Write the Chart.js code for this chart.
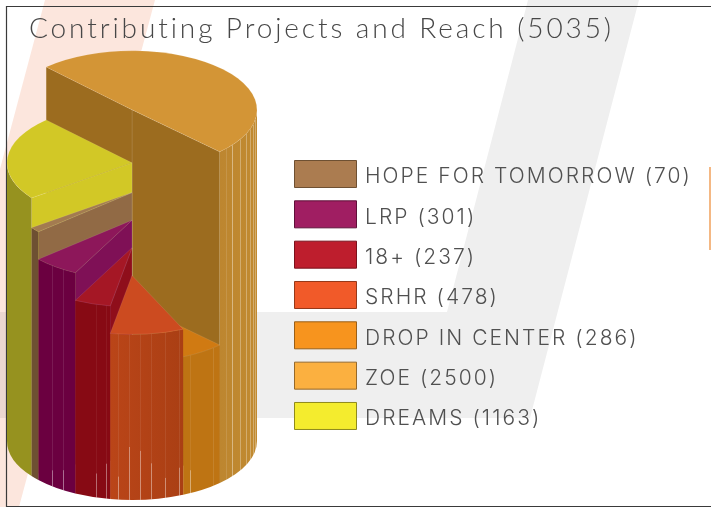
<!DOCTYPE html>
<html><head><meta charset="utf-8">
<script src="https://cdn.jsdelivr.net/npm/chart.js@4"></script>
<style>
html,body{margin:0;padding:0;background:#fff;overflow:hidden}
#wrap{position:relative;width:711px;height:507px}
svg,canvas{position:absolute;left:0;top:0}
</style></head><body>
<div id="wrap">
<svg width="711" height="507">
<polygon points="45,0 155,0 19,507 -90,507" fill="#FCE6DD"/>
<polygon points="528,0 639,0 530,418 0,418 0,312 447,312" fill="#EFEFEF" style="mix-blend-mode:multiply"/>
<path d="M711 6.5H6.5V506.5H711" fill="none" stroke="#3a3a3a" stroke-width="1.2"/>
<rect x="709" y="167" width="2" height="83" fill="#F4B884"/>
</svg>
<canvas id="c" width="711" height="507"></canvas>
</div>
<script>
const titleText = 'Contributing Projects and Reach (5035)';
const categories = ['DREAMS','ZOE','DROP IN CENTER','SRHR','18+','LRP','HOPE FOR TOMORROW'];
const reach = [1163,2500,286,478,237,301,70];
const stepLevels = [5.08,7,0,1,2,3,4];
const paintOrder = [1,0,6,5,4,2,3];
const legendColors = ['#F4EC2E','#FBB040','#F7941E','#F15A29','#BE1E2D','#A01E62','#AB7C50'];
const legendEdges = ['#8F8A1C','#96692A','#9A5F18','#96391A','#7A121C','#5F1039','#6E5032'];
const topColors = ['#D2C826','#D39536','#D07A12','#CC4B20','#A51725','#8D175A','#A37B50'];
const wallColors = ['#D2C826','#9C6C1F','#BE7413','#AE3F14','#8F0E1B','#7F1056','#916A45'];
const rimColors = ['#96921F','#C18A30','#BE7413','#AA3F14','#870A14','#6B0040','#6E5032'];
const rimColorsEnd = ['#96921F','#BD8630','#BE7413','#BA4518','#870A14','#6B0040','#6E5032'];
const facets = [[10,0,.3],[14.5,0,.3],[19.3,0,.3],[24.2,0,.3],[30.2,0,.3],[36.9,0,.4],[41,0,.12],
 [49.6,0,.1],[62.4,23,.08],[68,28,.08],[74.7,20,.08],[81.3,36,.08],[86.3,49,.08],[91.4,53,.08],[96.4,23,.08],
 [102,35,.06],[106.7,24,.06],[123.5,20,.1],[129.8,16,.1]];

const BASE_H = 138, STEP = 27.6, SQUASH = 0.472;
const TITLE_SPACING = '2.9px', LEGEND_SPACING = '2.05px';

const cylinder = {
  id:'cylinder',
  afterLayout(chart){
    const a = chart.chartArea;
    a.left=7; a.right=257; a.top=191; a.bottom=441; a.width=250; a.height=250;
    const t = chart.titleBlock;
    t.left=29; t.right=711; t.top=12; t.bottom=46;
    const l = chart.legend, p = l.options.labels.padding;
    l.left=294.5-p; l.right=711; l.top=160.5-p; l.bottom=507;
    if(!t._sp){
      t._sp=true;
      const c=chart.ctx;
      const dT=t.draw;
      t.draw=function(x){c.letterSpacing=TITLE_SPACING;dT.call(this,x);c.letterSpacing='0px';};
      const dL=l.draw;
      l.draw=function(x){
        const ft=c.fillText;
        c.letterSpacing=LEGEND_SPACING;
        c.fillText=(s,px,py,m)=>ft.call(c,s,px-2,py+3,m);
        dL.call(this,x);
        delete c.fillText;
        c.letterSpacing='0px';
      };
    }
  },
  beforeDatasetsDraw(chart){
    const ctx = chart.ctx, arcs = chart.getDatasetMeta(0).data;
    const ground = chart.chartArea.bottom;
    const h = stepLevels.map(v=>BASE_H+v*STEP);
    const n = arcs.length;
    const poly=(col,fn)=>{ctx.beginPath();fn();ctx.closePath();ctx.fillStyle=col;ctx.fill();
      ctx.strokeStyle='rgba(255,255,255,.16)';ctx.lineWidth=.6;ctx.stroke();};
    for(const i of paintOrder){
      const arc=arcs[i], cx=arc.x, rx=arc.outerRadius, ry=rx*SQUASH;
      const s=arc.startAngle, e=arc.endAngle, top=ground-h[i];
      const px=a=>cx+rx*Math.cos(a), py=(a,y)=>y+ry*Math.sin(a);
      const wall=a=>poly(wallColors[i],()=>{
        ctx.moveTo(cx,top);ctx.lineTo(px(a),py(a,top));ctx.lineTo(px(a),py(a,ground));ctx.lineTo(cx,ground);});
      if(h[(i+1)%n]<h[i] && Math.sin(e+Math.PI/2)>0) wall(e);
      if(h[(i+n-1)%n]<h[i] && Math.sin(s-Math.PI/2)>0) wall(s);
      for(let k=-1;k<=2;k++){
        const a1=Math.max(s,k*2*Math.PI), a2=Math.min(e,k*2*Math.PI+Math.PI);
        if(a2<=a1) continue;
        const g=ctx.createLinearGradient(px(a1),0,px(a2),0);
        g.addColorStop(0,rimColors[i]);g.addColorStop(1,rimColorsEnd[i]);
        ctx.beginPath();
        ctx.ellipse(cx,top,rx,ry,0,a1,a2);
        ctx.ellipse(cx,ground,rx,ry,0,a2,a1,true);
        ctx.closePath();ctx.fillStyle=g;ctx.fill();
        for(const [deg,hl,al] of facets){
          const a=deg*Math.PI/180+k*2*Math.PI;
          if(a<=a1||a>=a2) continue;
          const x=Math.round(px(a))+.5, y0=py(a,top), y1=py(a,ground);
          ctx.lineWidth=1;
          ctx.strokeStyle='rgba(255,255,255,'+al+')';
          ctx.beginPath();ctx.moveTo(x,y0);ctx.lineTo(x,y1);ctx.stroke();
          if(hl){ctx.strokeStyle='rgba(255,255,255,.36)';
            ctx.beginPath();ctx.moveTo(x,y1-hl);ctx.lineTo(x,y1);ctx.stroke();}
        }
      }
      poly(topColors[i],()=>{ctx.moveTo(cx,top);ctx.ellipse(cx,top,rx,ry,0,s,e);});
    }
    return false;
  }
};

new Chart(document.getElementById('c'),{
  type:'pie',
  data:{
    labels:categories.map((c,i)=>c+' ('+reach[i]+')'),
    datasets:[{data:reach,backgroundColor:legendColors,borderColor:legendEdges,borderWidth:1}]
  },
  options:{
    responsive:false,animation:false,events:[],
    rotation:233.5,radius:125,
    layout:{padding:0},
    plugins:{
      tooltip:{enabled:false},
      title:{display:true,text:titleText,align:'start',color:'#474747',
        font:{family:'Lato',size:28,weight:'300'},padding:0},
      legend:{display:true,position:'right',align:'start',reverse:true,
        labels:{boxWidth:62,boxHeight:27,padding:13.33,color:'#505050',
          font:{family:'Inter',size:21,weight:'300'}}}
    }
  },
  plugins:[cylinder]
});
</script>
</body></html>
